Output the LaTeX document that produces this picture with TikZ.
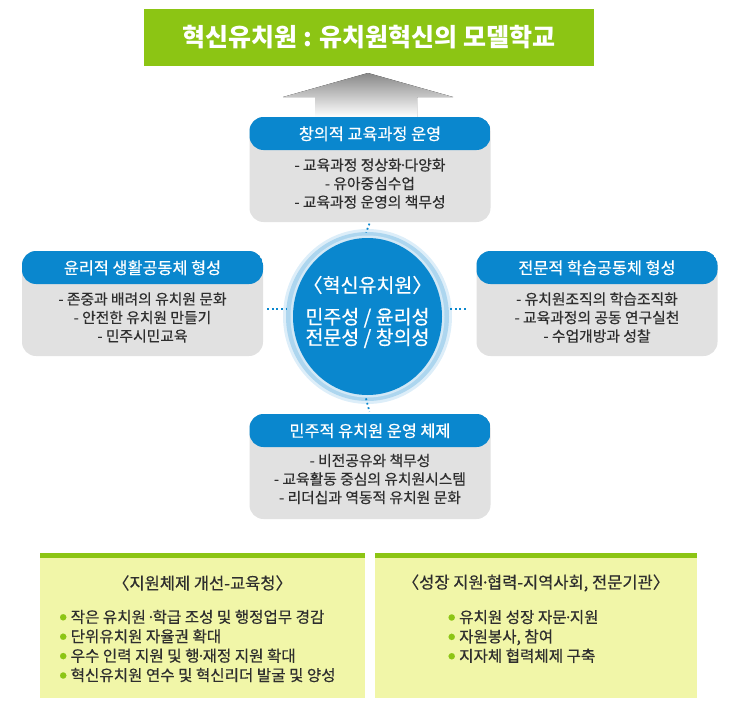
\documentclass[tikz,border=0pt]{standalone}
\usepackage{fontspec}
\setmainfont{Noto Sans CJK KR}
\newfontfamily\medfont{Noto Sans CJK KR}[FakeBold=0.5]
\usetikzlibrary{shapes.geometric}
\definecolor{bannergreen}{HTML}{8CC514}
\definecolor{hdrblue}{HTML}{0A87CE}
\definecolor{bodygray}{HTML}{E1E1E1}
\definecolor{ringA}{HTML}{DDEEF9}
\definecolor{ringB}{HTML}{ADD6EF}
\definecolor{ringC}{HTML}{D2E8F6}
\definecolor{panelfill}{HTML}{F1F6A8}
\definecolor{txtgray}{HTML}{2E2E2E}
\definecolor{arrowtop}{HTML}{888888}
\newcommand{\gdot}{\textcolor{bannergreen}{\raisebox{2.8pt}{\fontsize{7}{7}\selectfont ●}}\hspace{4pt}}
\newcommand{\md}{\kern-0.18em·\kern-0.18em}
\begin{document}
\begin{tikzpicture}[x=1pt,y=-1pt,
  card/.style={draw=none, fill=bodygray, rounded corners=14pt, minimum width=241pt,
    minimum height=105pt, inner sep=0pt,
    path picture={\fill[hdrblue] (path picture bounding box.north west) rectangle
      ([yshift=-33pt]path picture bounding box.north east);}},
  hdrtext/.style={text=white, inner sep=0pt, font=\medfont\fontsize{16.3}{18}\selectfont},
  bodytext/.style={text=txtgray, inner sep=0pt, align=center, font=\medfont\fontsize{14.8}{18.5}\selectfont},
  panel/.style={draw=none, fill=panelfill, minimum height=145pt, inner sep=0pt,
    path picture={\fill[bannergreen] (path picture bounding box.north west) rectangle
      ([yshift=-5pt]path picture bounding box.north east);}},
  paneltext/.style={text=txtgray, inner sep=0pt, font=\medfont\fontsize{15.6}{19.4}\selectfont},
  dotline/.style={draw=hdrblue, line width=1.8pt, dash pattern=on 1.8pt off 2.8pt},
  coretext/.style={text=white, inner sep=0pt, align=center}
]
\useasboundingbox (0,0) rectangle (740,720);

% title banner
\node[fill=bannergreen, minimum width=450pt, minimum height=57pt, inner sep=0pt,
      text=white, font=\bfseries\fontsize{25}{28}\selectfont] (title) at (369,37.5)
      {혁신유치원 : 유치원혁신의 모델학교};

% upward arrow
\fill[top color=arrowtop, bottom color=white]
  (368,73) -- (453,97) -- (417,97) -- (417,117) -- (315,117) -- (315,97) -- (283,97) -- cycle;

% cards
\node[card] (tcard) at (370,169.5) {};
\node[card] (lcard) at (142.5,303.5) {};
\node[card] (rcard) at (597,303.5) {};
\node[card] (bcard) at (370,466.5) {};

\node[hdrtext] (tcardh) at ([yshift=-17pt]tcard.north) {창의적 교육과정 운영};
\node[bodytext] (tcardb) at (370,183.5) {- 교육과정 정상화\md 다양화\\- 유아중심수업\\- 교육과정 운영의 책무성};

\node[hdrtext] (lcardh) at ([yshift=-17pt]lcard.north) {윤리적 생활공동체 형성};
\node[bodytext] (lcardb) at (142.5,317.5) {- 존중과 배려의 유치원 문화\\- 안전한 유치원 만들기\\- 민주시민교육};

\node[hdrtext] (rcardh) at ([yshift=-17pt]rcard.north) {전문적 학습공동체 형성};
\node[bodytext] (rcardb) at (597,317.5) {- 유치원조직의 학습조직화\\- 교육과정의 공동 연구실천\\- 수업개방과 성찰};

\node[hdrtext] (bcardh) at ([yshift=-17pt]bcard.north) {민주적 유치원 운영 체제};
\node[bodytext] (bcardb) at (370,479) {- 비전공유와 책무성\\- 교육활동 중심의 유치원시스템\\- 리더십과 역동적 유치원 문화};

% central circle
\node[ellipse, fill=ringA, minimum width=169pt, minimum height=175pt, inner sep=0pt] (core) at (367.5,316.5) {};
\fill[ringB] (core.center) ellipse [x radius=81.5pt, y radius=84.5pt];
\fill[ringC] (core.center) ellipse [x radius=77pt, y radius=81pt];
\fill[hdrblue] (core.center) ellipse [x radius=74.5pt, y radius=78.5pt];
\node[coretext, font=\medfont\fontsize{19.5}{20}\selectfont] (coretitle) at (367.5,285) {〈혁신유치원〉};
\node[coretext, font=\medfont\fontsize{19.5}{20.5}\selectfont] (corebody) at (367.5,328) {민주성 / 윤리성\\전문성 / 창의성};

% dotted connectors
\draw[dotline, shorten <=4pt, shorten >=-4pt] ([yshift=-5.5pt]lcard.east) -- ([yshift=7.5pt]core.west);
\draw[dotline, shorten <=-2pt, shorten >=9pt] ([yshift=7.5pt]core.east) -- ([yshift=-5.5pt]rcard.west);
\draw[dotline, shorten <=1.5pt, shorten >=-4pt] (tcard.south) -- (core.north);
\draw[dotline, shorten <=-6pt, shorten >=2pt] (core.south) -- (bcard.north);

% bottom panels
\node[panel, minimum width=325pt] (lpanel) at (202.5,625.5) {};
\node[panel, minimum width=322pt] (rpanel) at (536,625.5) {};
\node[paneltext, font=\medfont\fontsize{16.5}{19}\selectfont] (lpanelh) at (202.5,583) {〈지원체제 개선-교육청〉};
\node[paneltext, font=\medfont\fontsize{16.5}{19}\selectfont] (rpanelh) at (536,583) {〈성장 지원\md 협력-지역사회, 전문기관〉};
\node[paneltext, anchor=west, align=left] (lpanelb) at (59.5,646)
  {\gdot 작은 유치원 \md 학급 조성 및 행정업무 경감\\
   \gdot 단위유치원 자율권 확대\\
   \gdot 우수 인력 지원 및 행\md 재정 지원 확대\\
   \gdot 혁신유치원 연수 및 혁신리더 발굴 및 양성};
\node[paneltext, anchor=west, align=left] (rpanelb) at (448,636.5)
  {\gdot 유치원 성장 자문\md 지원\\
   \gdot 자원봉사, 참여\\
   \gdot 지자체 협력체제 구축};
\end{tikzpicture}
\end{document}
